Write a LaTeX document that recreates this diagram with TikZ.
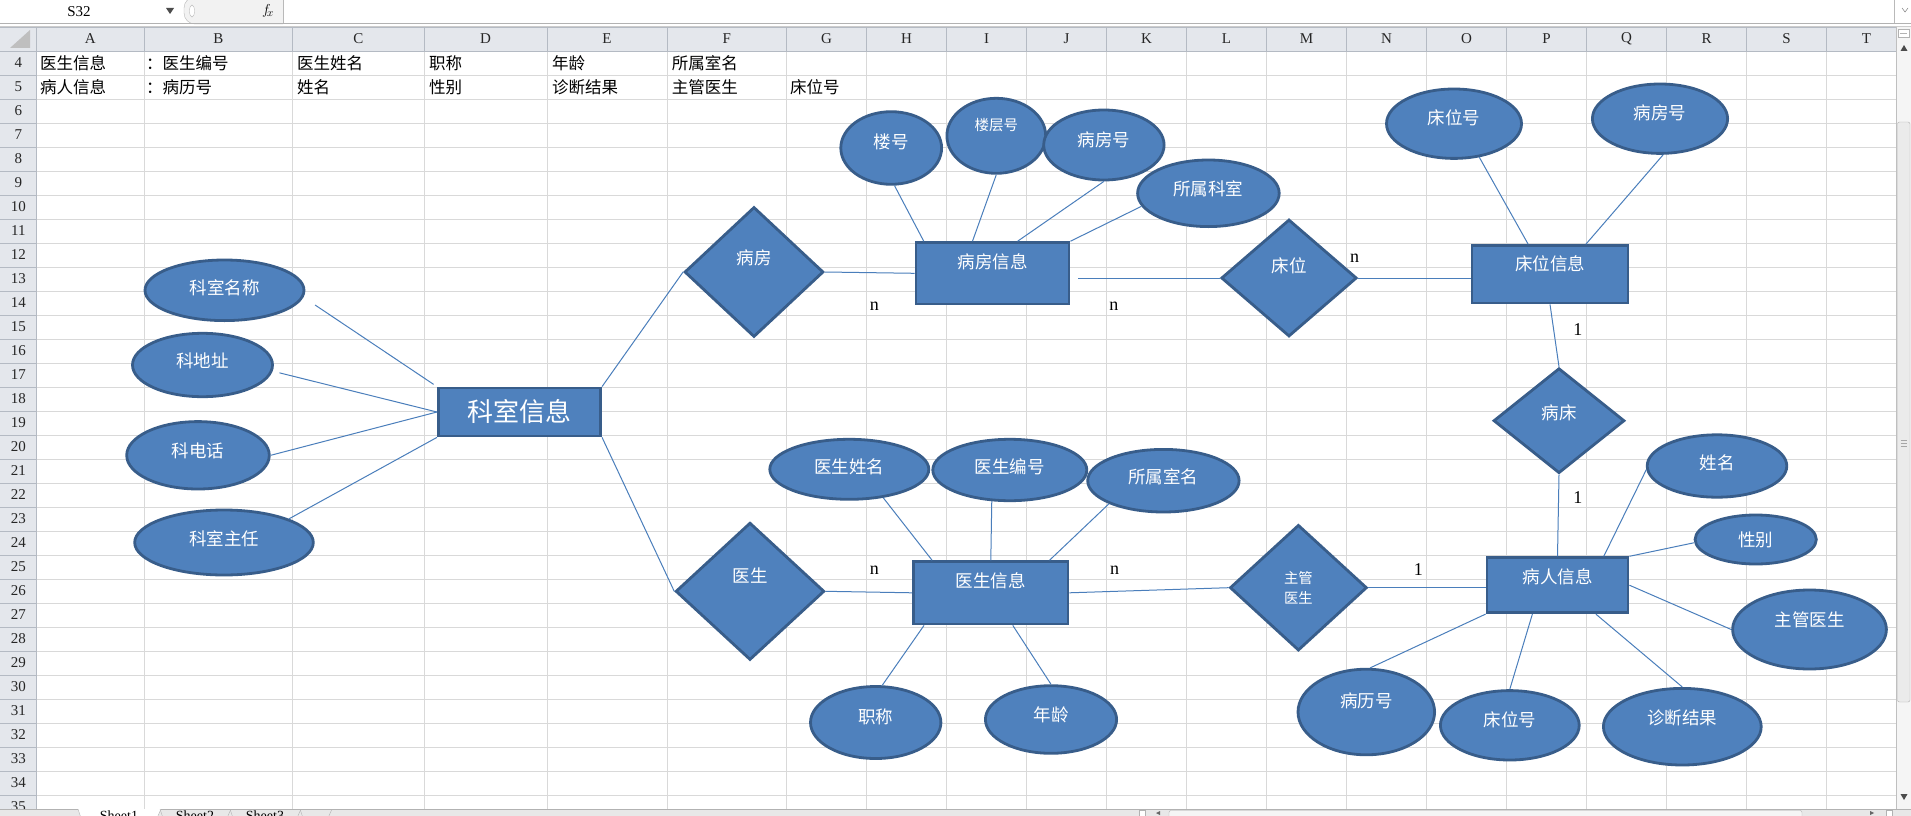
\documentclass[tikz,border=0pt]{standalone}
\usepackage{fontspec}
\setmainfont{Liberation Serif}
\newfontfamily\cjk{Noto Sans CJK SC}
\usetikzlibrary{shapes.geometric}

\definecolor{shapefill}{HTML}{4F81BD}
\definecolor{shapeline}{HTML}{385D8A}
\definecolor{linkblue}{HTML}{4A7EBB}
\definecolor{gridgray}{HTML}{D9D9D9}
\definecolor{headbg}{HTML}{E4E7EC}
\definecolor{headline}{HTML}{B4BAC3}

\tikzset{
	shape base/.style={draw=shapeline, fill=shapefill, line width=2.8pt, inner sep=0pt,
		text=white, font=\cjk\fontsize{17.5}{20}\selectfont},
	attr/.style={shape base, ellipse},
	entity/.style={shape base, rectangle},
	rel/.style={shape base, diamond},
	wh/.style 2 args={minimum width=#1, minimum height=#2},
	tup/.style={text height=15.4pt, text depth=#1},
	link/.style={draw=linkblue, line width=1pt},
	card/.style={inner sep=0pt, font=\fontsize{18}{20}\selectfont},
	cell/.style={anchor=west, inner sep=0pt, font=\cjk\fontsize{16.5}{18}\selectfont},
	hdr/.style={inner sep=0pt, text=black!85, font=\fontsize{15}{16}\selectfont},
}

\begin{document}
\begin{tikzpicture}[x=1pt, y=-1pt]
\useasboundingbox (0,0) rectangle (1911,816);

% formula bar
\fill[white] (0,0) rectangle (1911,23);
\node[hdr, text=black] (namebox) at (79,12) {S32};
\fill[black!70] (166,8) -- (174,8) -- (170,14) -- cycle;
\draw[gray!55, fill=gray!10, rounded corners=11pt] (283,-3) -- (184,-3) -- (184,24) -- (283,24);
\draw[gray!50, fill=white] (192,11) ellipse (2.5 and 6);
\node[inner sep=0pt, font=\fontsize{15}{16}\selectfont] (fx) at (268,11) {$f_{\!x}$};
\draw[gray!55] (283,0) -- (283,23);
\draw[gray!55] (1894,0) -- (1894,23);
\draw[black!60] (1902,8) -- (1905,12) -- (1908,8);
\draw[gray!60] (0,23.5) -- (1911,23.5);
\draw[gray!40] (0,26) -- (1911,26);

% sheet grid and headers
\begin{scope}
	\clip (0,27) rectangle (1896,809);
	\fill[white] (36.6,50.8) rectangle (1896,809);
	\fill[headbg] (0,27) rectangle (1896,50.8);
	\fill[headbg] (0,27) rectangle (36.6,809);
	\fill[black!25] (30,30) -- (30,48) -- (10,48) -- cycle;
	\foreach \x in {144,292.5,424,547,667,786.5,866.5,946.5,1026.5,1106.5,1186.5,1266.5,1346.5,1426.5,1506.5,1586.5,1666.5,1746.5,1826.5} {
		\draw[gridgray] (\x,50.8) -- (\x,809);
		\draw[headline] (\x,27) -- (\x,50.8);
	}
	\foreach \r in {0,...,31} {
		\draw[gridgray] (36.6,{74.8+\r*24}) -- (1896,{74.8+\r*24});
		\draw[headline] (0,{74.8+\r*24}) -- (36.6,{74.8+\r*24});
	}
	\draw[headline] (0,27) -- (1896,27);
	\draw[headline] (0,50.8) -- (1896,50.8);
	\draw[headline] (36.6,27) -- (36.6,809);
	\foreach \l/\c in {A/90.3,B/218.3,C/358.3,D/485.5,E/607,F/726.8,G/826.5,H/906.5,I/986.5,J/1066.5,K/1146.5,L/1226.5,M/1306.5,N/1386.5,O/1466.5,P/1546.5,Q/1626.5,R/1706.5,S/1786.5,T/1866.5}
		\node[hdr] (col\l) at (\c,39) {\l};
	\foreach \r in {4,...,35}
		\node[hdr] (row\r) at (18.3,{62.8+(\r-4)*24}) {\r};
\end{scope}

% cell texts
\node[cell] (a4) at (40,62.8) {医生信息};
\node[cell] (b4) at (146,62.8) {：医生编号};
\node[cell] (c4) at (297,62.8) {医生姓名};
\node[cell] (d4) at (429,62.8) {职称};
\node[cell] (e4) at (552,62.8) {年龄};
\node[cell] (f4) at (671.6,62.8) {所属室名};
\node[cell] (a5) at (40,86.8) {病人信息};
\node[cell] (b5) at (146,86.8) {：病历号};
\node[cell] (c5) at (297,86.8) {姓名};
\node[cell] (d5) at (429,86.8) {性别};
\node[cell] (e5) at (552,86.8) {诊断结果};
\node[cell] (f5) at (671.6,86.8) {主管医生};
\node[cell] (g5) at (790,86.8) {床位号};

% department
\node[entity, wh={162.3}{48}, font=\cjk\fontsize{26}{28}\selectfont] (ksxx) at (519.5,412) {科室信息};
\node[attr, wh={159}{60.6}, tup=6.1pt] (ksmc) at (224.5,290.3) {科室名称};
\node[attr, wh={140}{63.4}, tup=10.1pt] (kdz) at (202.5,365) {科地址};
\node[attr, wh={142.6}{67.4}, tup=11.3pt] (kdh) at (198,455.3) {科电话};
\node[attr, wh={178.6}{65}, tup=10.1pt] (kszr) at (224,542.5) {科室主任};

% ward
\node[rel, wh={139}{130}, tup=30.1pt] (bf) at (754,272) {病房};
\node[entity, wh={153}{61.3}, tup=25.3pt] (bfxx) at (992.5,273.3) {病房信息};
\node[attr, wh={100.8}{72.6}, tup=14.7pt] (lh) at (891.2,148) {楼号};
\node[attr, wh={98.8}{75}, tup=23.3pt, text height=12.8pt, font=\cjk\fontsize{14.5}{16}\selectfont] (lch) at (996.3,135.8) {楼层号};
\node[attr, wh={120.4}{70}, tup=12.1pt] (bfh) at (1103.9,145) {病房号};
\node[attr, wh={141.6}{66.6}, tup=10.7pt] (sskx) at (1208.4,193.3) {所属科室};

% bed
\node[rel, wh={135.5}{117}, tup=26.1pt] (cw) at (1289,278) {床位};
\node[entity, wh={156}{57.3}, tup=22.1pt] (cwxx) at (1550,274.3) {床位信息};
\node[attr, wh={135}{69.4}, tup=14.1pt] (cwh) at (1454,123.7) {床位号};
\node[attr, wh={135.2}{69.4}, tup=12.9pt] (cbfh) at (1660,118.7) {病房号};
\node[rel, wh={131}{105}, tup=18.1pt] (bc) at (1559,420.7) {病床};

% patient
\node[entity, wh={141}{55}, tup=19.1pt] (brxx) at (1557.5,585.2) {病人信息};
\node[rel, wh={137}{125.7}, align=center, font=\cjk\fontsize{14.3}{20}\selectfont] (zg) at (1298.4,587.7) {主管\\医生};
\node[attr, wh={139.6}{62.4}, tup=7.5pt] (xm) at (1717,466) {姓名};
\node[attr, wh={121.2}{49}] (xb) at (1755.7,539.5) {性别};
\node[attr, wh={153.8}{79}, tup=21.1pt] (zgys) at (1809.5,629.5) {主管医生};
\node[attr, wh={136.6}{85.6}, tup=24.1pt] (blh) at (1366.3,712) {病历号};
\node[attr, wh={138.8}{69.4}, tup=12.7pt] (bcwh) at (1509.8,725.3) {床位号};
\node[attr, wh={157.8}{76.6}, tup=18.9pt] (zdjg) at (1682.3,726.7) {诊断结果};

% doctor
\node[rel, wh={148.7}{137.3}, tup=33.3pt] (ys) at (750,591.3) {医生};
\node[entity, wh={154.4}{62.3}, tup=26.1pt] (ysxx) at (990.8,592.8) {医生信息};
\node[attr, wh={159}{60}, tup=7.3pt] (ysxm) at (849.3,469.3) {医生姓名};
\node[attr, wh={154}{61.4}, tup=8.7pt] (ysbh) at (1009.8,470) {医生编号};
\node[attr, wh={151.4}{62.6}, tup=10.1pt] (ssm) at (1163.4,480.7) {所属室名};
\node[attr, wh={130.4}{72}, tup=13.7pt] (zc) at (875.7,722.5) {职称};
\node[attr, wh={131.2}{67.6}, tup=11.1pt] (nl) at (1051,719.5) {年龄};

% connectors
\draw[link, shorten <=14pt, shorten >=4pt] (ksmc.-5) -- (ksxx.north west);
\draw[link, shorten <=7pt] (kdz.-5) -- (ksxx.west);
\draw[link] (kdh.east) -- (ksxx.west);
\draw[link] (kszr.20) -- (ksxx.south west);
\draw[link] (ksxx.north east) -- (bf.west);
\draw[link] (ksxx.south east) -- (ys.west);
\draw[link] (bf.east) -- (bfxx.west);
\draw[link] (lh.-85) -- (bfxx.155);
\draw[link] (lch.south) -- (bfxx.122);
\draw[link] (bfh.south) -- (bfxx.52);
\draw[link] (sskx.191) -- (bfxx.north east);
\draw[link, shorten <=8pt] (cw.west -| bfxx.east) -- (cw.west);
\draw[link] (cw.east) -- (cw.east -| cwxx.west);
\draw[link] (cwh.-53) -- (cwxx.126);
\draw[link] (cbfh.-85) -- (cwxx.40);
\draw[link] (cwxx.south) -- (bc.north);
\draw[link] (bc.south) -- (brxx.north);
\draw[link] (zg.east) -- (zg.east -| brxx.west);
\draw[link] (ysxx.east) -- (zg.west);
\draw[link] (ys.east) -- (ysxx.west);
\draw[link] (ysxm.-40) -- (ysxx.151);
\draw[link] (ysbh.-120) -- (ysxx.north);
\draw[link] (ssm.203) -- (ysxx.29);
\draw[link] (ysxx.206) -- (zc.80);
\draw[link] (ysxx.-56) -- (nl.north);
\draw[link] (xm.183) -- (brxx.32);
\draw[link] (xb.183) -- (brxx.north east);
\draw[link] (zgys.west) -- (brxx.east);
\draw[link] (brxx.south west) -- (blh.85);
\draw[link] (brxx.-131) -- (bcwh.north);
\draw[link] (brxx.-37) -- (zdjg.north);

% cardinalities
\node[card] (c1) at (874.3,306.7) {n};
\node[card] (c2) at (1113.9,306.7) {n};
\node[card] (c3) at (1354.6,258.3) {n};
\node[card] (c4) at (1577.9,329.3) {1};
\node[card] (c5) at (1577.9,497.7) {1};
\node[card] (c6) at (874.3,570.7) {n};
\node[card] (c7) at (1114.5,570.7) {n};
\node[card] (c8) at (1418.3,569.3) {1};

% vertical scroll bar
\fill[gray!8] (1896,27) rectangle (1911,809);
\draw[gray!50] (1896,27) -- (1896,809);
\draw[gray!60, fill=white] (1898,29) rectangle (1909,37);
\draw[gray!60] (1900,33) -- (1907,33);
\fill[black!70] (1900.5,51) -- (1907.5,51) -- (1904,45) -- cycle;
\draw[gray!60, fill=gray!16, rounded corners=2pt] (1897.5,122) rectangle (1910,702);
\foreach \g in {440,443,446}
	\draw[gray!70] (1900.5,\g) -- (1907,\g);
\fill[black!70] (1900.5,794) -- (1907.5,794) -- (1904,800) -- cycle;

% sheet tabs and horizontal scroll bar
\begin{scope}
	\clip (0,809) rectangle (1911,816);
	\fill[gray!18] (0,809) rectangle (1911,816);
	\draw[gray!60] (0,809.3) -- (1911,809.3);
	\draw[gray!60, fill=white] (78,809) -- (81,818) -- (157,818) -- (161,809);
	\draw[gray!60] (160,809) -- (163,818) -- (227,818) -- (231,809);
	\draw[gray!60] (230,809) -- (233,818) -- (297,818) -- (301,809);
	\draw[gray!60] (300,809) -- (303,818) -- (328,818) -- (332,809);
	\node[inner sep=0pt, anchor=north, font=\fontsize{14}{16}\selectfont] (tab1) at (119,810.5) {Sheet1};
	\node[inner sep=0pt, anchor=north, font=\fontsize{14}{16}\selectfont] (tab2) at (195,810.5) {Sheet2};
	\node[inner sep=0pt, anchor=north, font=\fontsize{14}{16}\selectfont] (tab3) at (265,810.5) {Sheet3};
	\draw[gray!60, fill=white] (1139,810.5) rectangle (1145,818);
	\fill[black!60] (1156,813) -- (1160,811) -- (1160,815) -- cycle;
	\draw[gray!60, fill=gray!8, rounded corners=2pt] (1169,810.5) rectangle (1802,820);
	\fill[black!60] (1874,813) -- (1870,811) -- (1870,815) -- cycle;
	\draw[gray!60, fill=white] (1886,810.5) rectangle (1892,818);
\end{scope}
\end{tikzpicture}
\end{document}
